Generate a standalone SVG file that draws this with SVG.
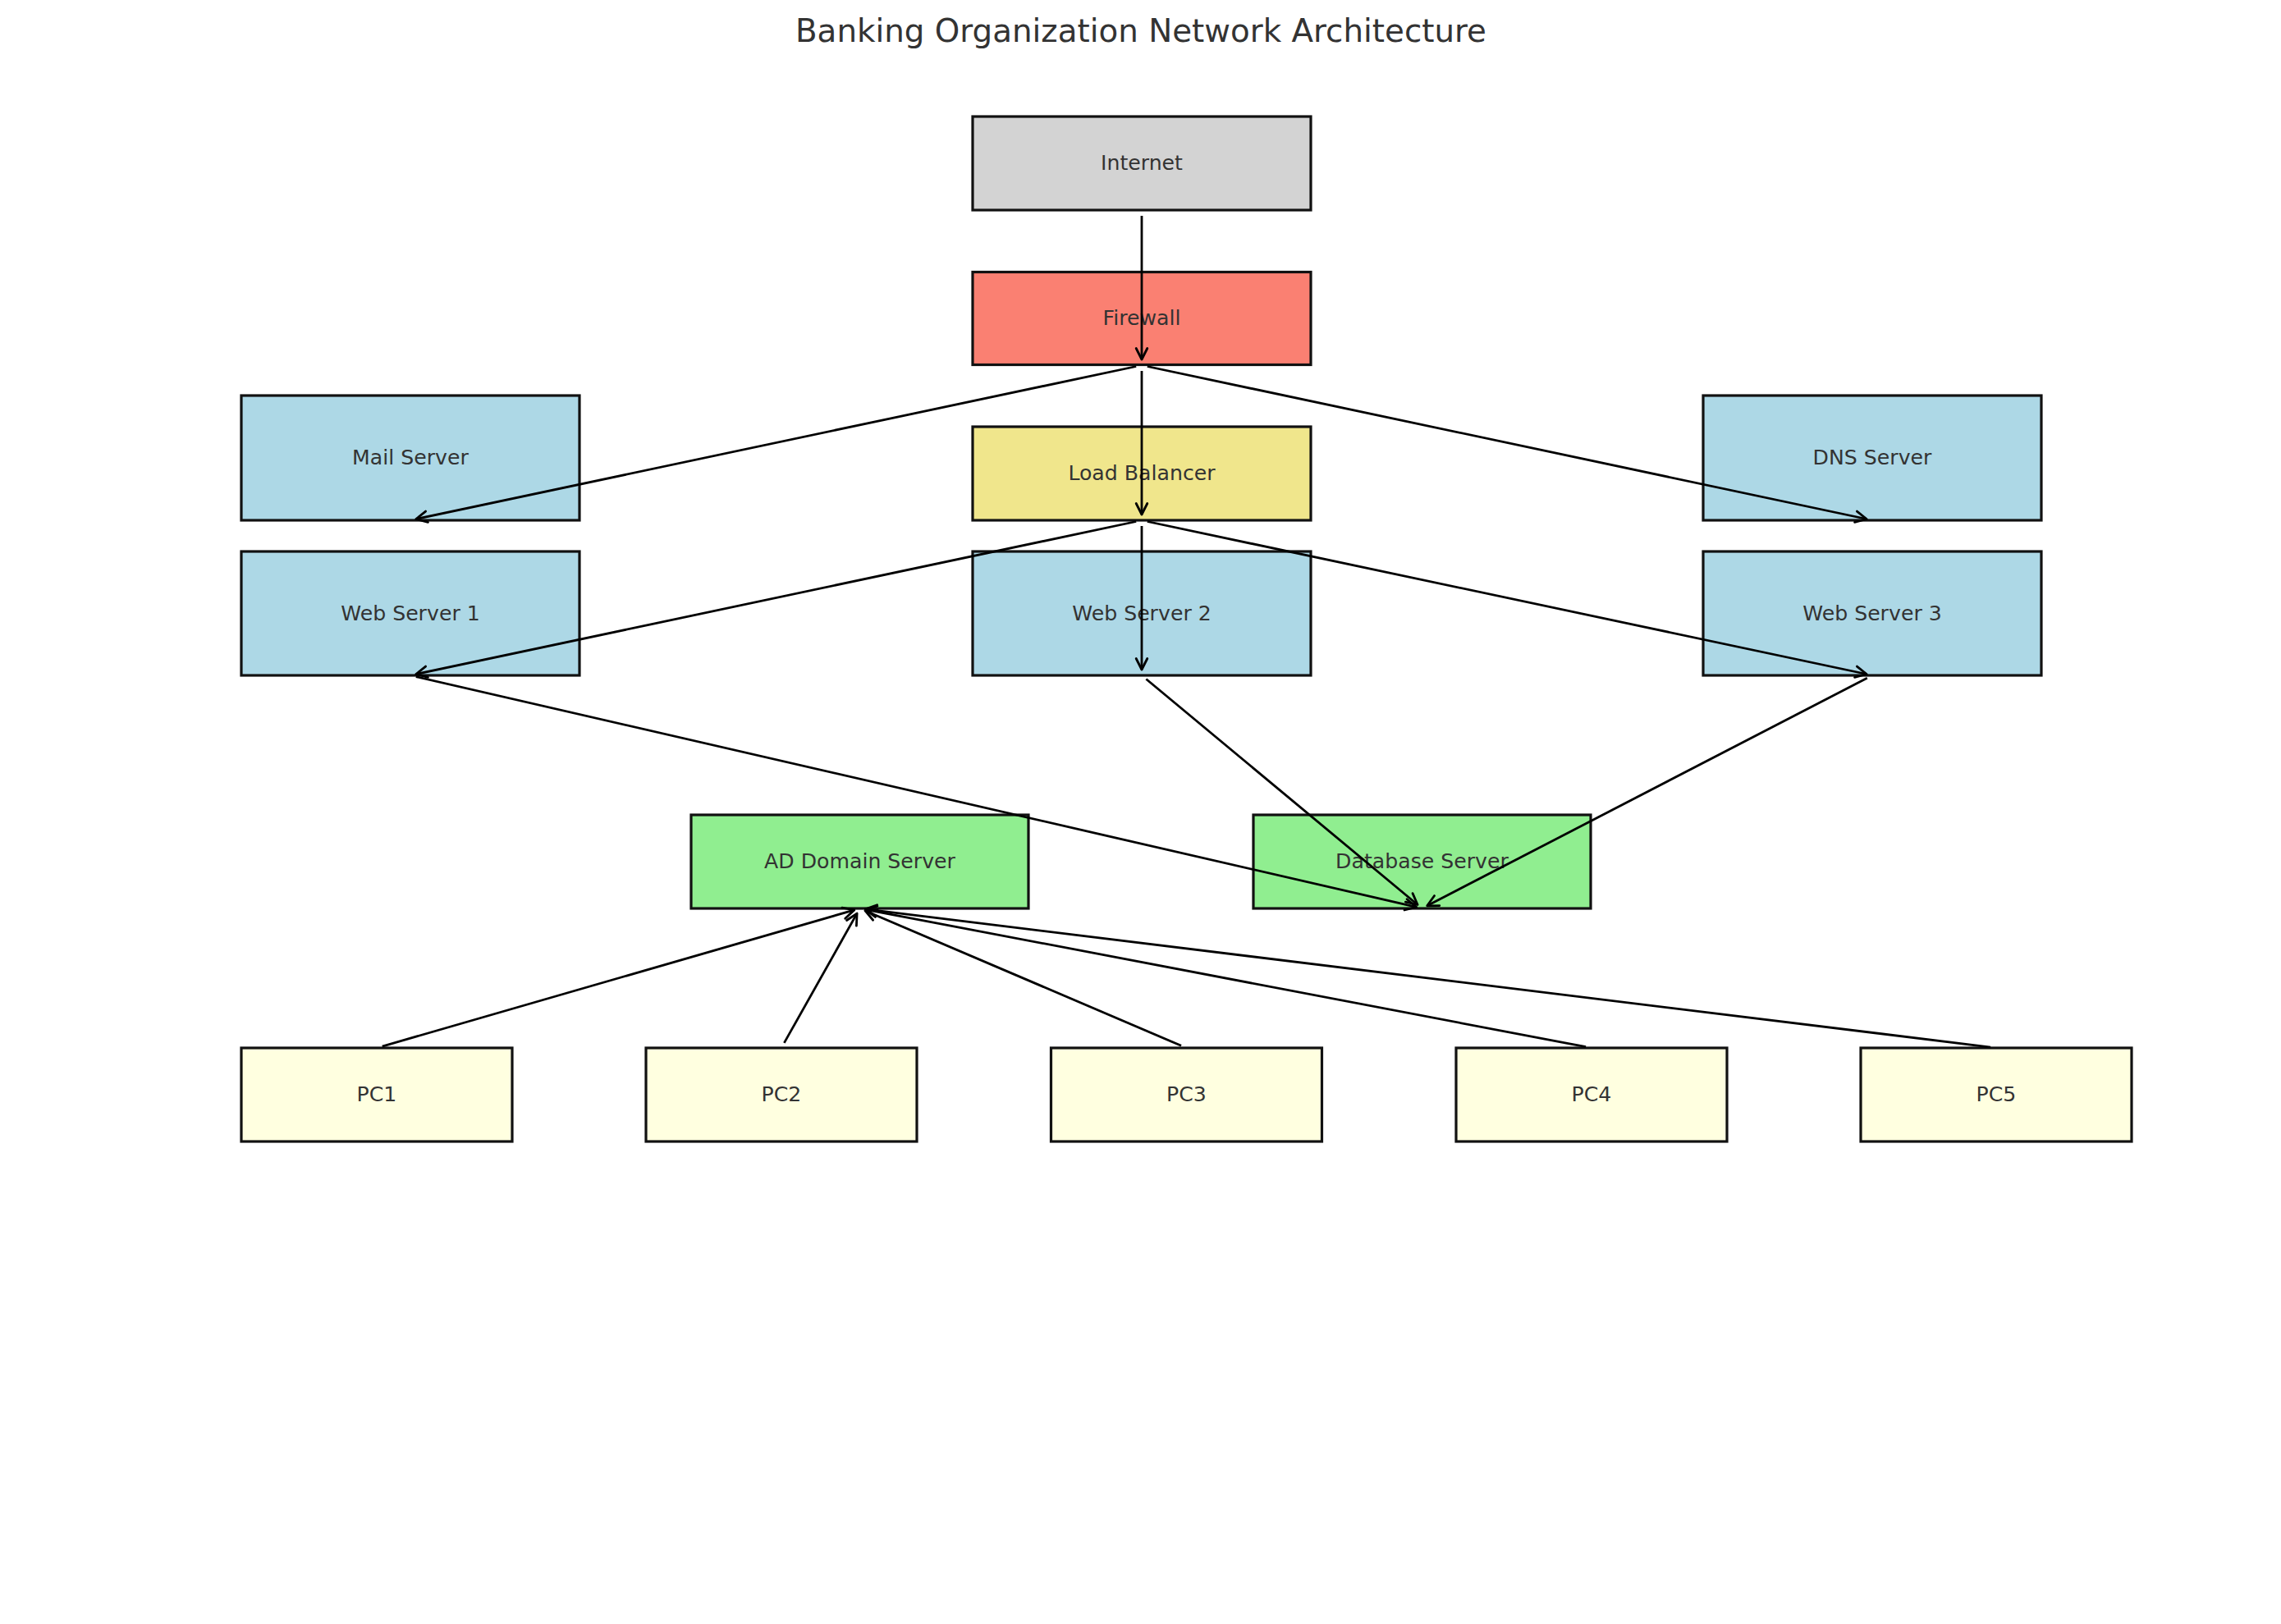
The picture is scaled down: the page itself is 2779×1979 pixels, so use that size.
<svg xmlns="http://www.w3.org/2000/svg" width="2779" height="1979" viewBox="0 0 2779 1979">
<defs>
<style>
.box{stroke:#111;stroke-width:3.2}
.lbl{font-family:"DejaVu Sans",sans-serif;font-size:25.2px;fill:#333;text-anchor:middle}
.ttl{font-family:"DejaVu Sans",sans-serif;font-size:38.8px;fill:#333;text-anchor:middle}
.edge{stroke:#000;stroke-width:2.8;fill:none;marker-end:url(#ah)}
</style>
<marker id="ah" markerUnits="userSpaceOnUse" markerWidth="30" markerHeight="30" refX="0" refY="0" viewBox="-20 -15 30 30" orient="auto" overflow="visible">
<path d="M -13.5 -6.8 L 0 0 L -13.5 6.8" fill="none" stroke="#000" stroke-width="2.8" stroke-linejoin="round" stroke-linecap="round"/>
</marker>
</defs>
<rect width="2779" height="1979" fill="#fff"/>
<text class="ttl" x="1390" y="51">Banking Organization Network Architecture</text>
<g id="nodes">
<g id="internet"><rect class="box" x="1185" y="142" width="412" height="114" fill="#d3d3d3"/><text class="lbl" x="1391" y="207">Internet</text></g>
<g id="firewall"><rect class="box" x="1185" y="331.5" width="412" height="113" fill="#fa8072"/><text class="lbl" x="1391" y="396">Firewall</text></g>
<g id="load-balancer"><rect class="box" x="1185" y="520" width="412" height="114" fill="#f0e68c"/><text class="lbl" x="1391" y="585">Load Balancer</text></g>
<g id="mail-server"><rect class="box" x="294" y="482" width="412" height="152" fill="#add8e6"/><text class="lbl" x="500" y="566">Mail Server</text></g>
<g id="dns-server"><rect class="box" x="2075" y="482" width="412" height="152" fill="#add8e6"/><text class="lbl" x="2281" y="566">DNS Server</text></g>
<g id="web-server-1"><rect class="box" x="294" y="672" width="412" height="151" fill="#add8e6"/><text class="lbl" x="500" y="756">Web Server 1</text></g>
<g id="web-server-2"><rect class="box" x="1185" y="672" width="412" height="151" fill="#add8e6"/><text class="lbl" x="1391" y="756">Web Server 2</text></g>
<g id="web-server-3"><rect class="box" x="2075" y="672" width="412" height="151" fill="#add8e6"/><text class="lbl" x="2281" y="756">Web Server 3</text></g>
<g id="ad-domain-server"><rect class="box" x="842" y="993" width="411" height="114" fill="#90ee90"/><text class="lbl" x="1047.5" y="1058">AD Domain Server</text></g>
<g id="database-server"><rect class="box" x="1527" y="993" width="411" height="114" fill="#90ee90"/><text class="lbl" x="1732.5" y="1058">Database Server</text></g>
<g id="pc1"><rect class="box" x="294" y="1277" width="330" height="114" fill="#ffffe0"/><text class="lbl" x="459" y="1342">PC1</text></g>
<g id="pc2"><rect class="box" x="787" y="1277" width="330" height="114" fill="#ffffe0"/><text class="lbl" x="952" y="1342">PC2</text></g>
<g id="pc3"><rect class="box" x="1280.5" y="1277" width="330" height="114" fill="#ffffe0"/><text class="lbl" x="1445.5" y="1342">PC3</text></g>
<g id="pc4"><rect class="box" x="1774" y="1277" width="330" height="114" fill="#ffffe0"/><text class="lbl" x="1939" y="1342">PC4</text></g>
<g id="pc5"><rect class="box" x="2267" y="1277" width="330" height="114" fill="#ffffe0"/><text class="lbl" x="2432" y="1342">PC5</text></g>
</g>
<g id="connectors">
<line class="edge" x1="1391" y1="263" x2="1391" y2="438"/>
<line class="edge" x1="1391" y1="452" x2="1391" y2="627"/>
<line class="edge" x1="1384.2" y1="446.5" x2="506.8" y2="632.5"/>
<line class="edge" x1="1397.8" y1="446.5" x2="2274.2" y2="632.5"/>
<line class="edge" x1="1384.2" y1="635.5" x2="506.8" y2="821.5"/>
<line class="edge" x1="1391" y1="641" x2="1391" y2="816"/>
<line class="edge" x1="1397.8" y1="635.5" x2="2274.2" y2="821.5"/>
<line class="edge" x1="506.8" y1="824.6" x2="1725.7" y2="1105.4"/>
<line class="edge" x1="1396.4" y1="827.5" x2="1727.1" y2="1102.5"/>
<line class="edge" x1="2274.8" y1="826.2" x2="1738.7" y2="1103.8"/>
<line class="edge" x1="465.7" y1="1275.1" x2="1040.8" y2="1108.9"/>
<line class="edge" x1="955.4" y1="1270.9" x2="1044.1" y2="1113.1"/>
<line class="edge" x1="1439.1" y1="1274.3" x2="1053.9" y2="1109.7"/>
<line class="edge" x1="1932.1" y1="1275.7" x2="1054.4" y2="1108.3"/>
<line class="edge" x1="2425.1" y1="1276.1" x2="1054.4" y2="1107.9"/>
</g>
</svg>
